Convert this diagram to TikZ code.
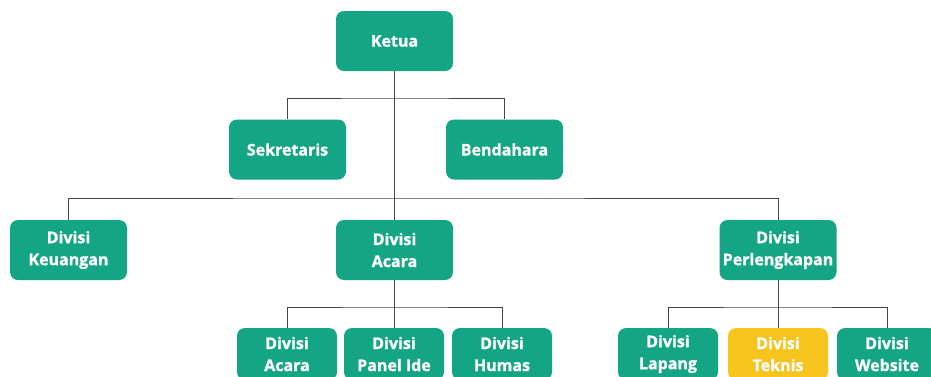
\documentclass[tikz,border=0pt]{standalone}
\usepackage{fontspec}
\setmainfont{Open Sans}[BoldFont={Open Sans Bold}, BoldFeatures={FakeBold=1.2}]
\usetikzlibrary{positioning}
\definecolor{boxgreen}{RGB}{20,165,133}
\definecolor{boxyellow}{RGB}{246,196,28}
\definecolor{linegray}{RGB}{70,70,70}

\begin{document}
\begin{tikzpicture}[
        x=1pt, y=-1pt,
        unit/.style={rectangle, rounded corners=8pt, fill=boxgreen, text=white,
            font=\fontsize{16}{22}\selectfont\bfseries, align=center,
            minimum width=117pt, minimum height=60pt, inner sep=0pt},
        subunit/.style={unit, minimum width=100pt, minimum height=52pt},
        connection/.style={draw=linegray, line width=0.8pt}
    ]
    \clip (0,0) rectangle (931,376);

    % Top
    \node[unit] (ketua) at (394.5, 41) {Ketua};
    \node[unit] (sekretaris) at (287.5, 149.5) {Sekretaris};
    \node[unit] (bendahara) at (504.5, 149.5) {Bendahara};

    % Divisions
    \node[unit] (keuangan) at (68.5, 250) {Divisi\\Keuangan};
    \node[unit] (acara) at (394.5, 250) {Divisi\\Acara};
    \node[unit] (perlengkapan) at (778, 250) {Divisi\\Perlengkapan};

    % Sub divisions
    \node[subunit] (subacara) at (287, 354) {Divisi\\Acara};
    \node[subunit] (panelide) at (394, 354) {Divisi\\Panel Ide};
    \node[subunit] (humas) at (502, 354) {Divisi\\Humas};
    \node[subunit] (lapang) at (668, 354) {Divisi\\Lapang};
    \node[subunit, fill=boxyellow] (teknis) at (778, 354) {Divisi\\Teknis};
    \node[subunit] (website) at (887, 354) {Divisi\\Website};

    % Junctions
    \coordinate (jtop) at (394.5, 98);
    \coordinate (jmid) at (394.5, 198);
    \coordinate (jacara) at (394.5, 307);
    \coordinate (jperl) at (778, 307);

    % Connections
    \draw[connection] (ketua) -- (acara);
    \draw[connection] (sekretaris.north) |- (jtop) -| (bendahara.north);
    \draw[connection] (keuangan.north) |- (jmid) -| (perlengkapan.north);
    \draw[connection] (acara.south) -- (acara.south |- panelide.north);
    \draw[connection] (subacara.north) |- (jacara) -| (humas.north);
    \draw[connection] (perlengkapan) -- (teknis);
    \draw[connection] (lapang.north) |- (jperl) -| (website.north);

\end{tikzpicture}
\end{document}
